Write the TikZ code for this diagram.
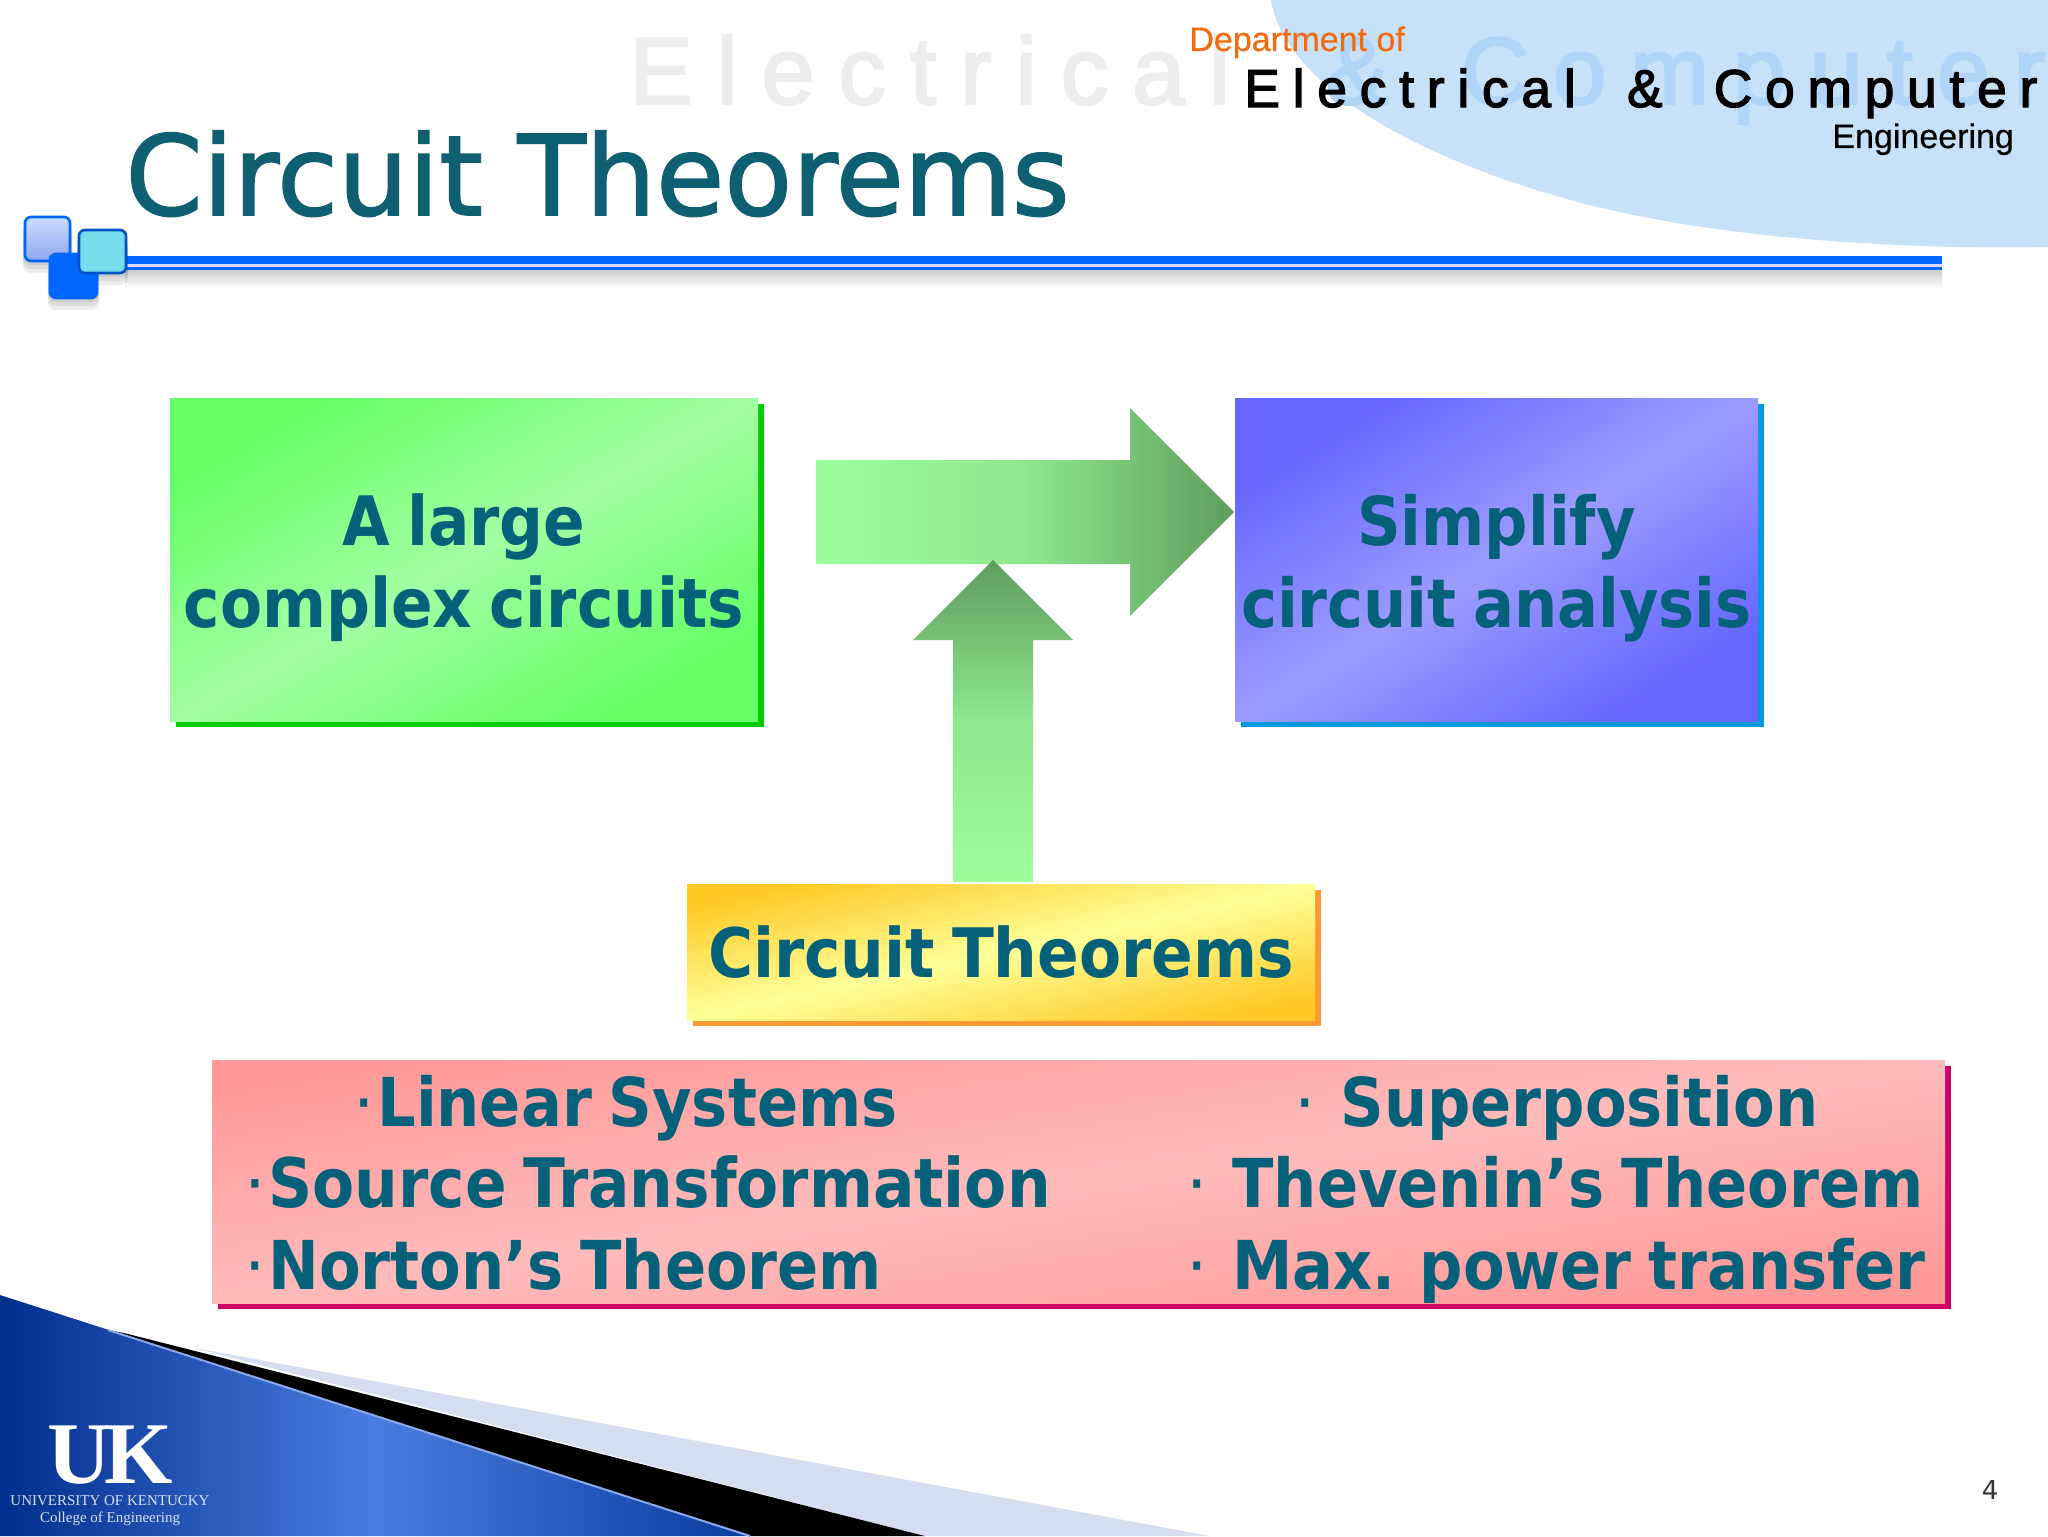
\documentclass[tikz,border=0pt]{standalone}
\usepackage{fontspec}
\setmainfont{Liberation Sans}
\newfontfamily\slidefont[WordSpace=0.8]{DejaVu Sans Condensed}
\newfontfamily\titlefont[FakeBold=1.5]{DejaVu Sans}
\newfontfamily\plainfont{DejaVu Sans}
\newfontfamily\logofont{Liberation Serif}
\newfontfamily\ecefont[FakeBold=2.5]{Liberation Sans}
\newfontfamily\deptfont[FakeBold=0.4]{Liberation Sans}
\usetikzlibrary{shadows}
\definecolor{teal1}{HTML}{05607A}
\definecolor{titleteal}{HTML}{0F5F72}
\definecolor{lineblue}{HTML}{0066FF}
\definecolor{gsat}{HTML}{66FF66}\definecolor{glit}{HTML}{A3FFA3}\definecolor{gsh}{HTML}{00CC00}
\definecolor{bsat}{HTML}{6666FF}\definecolor{blit}{HTML}{9C9CFF}\definecolor{bsh}{HTML}{0099DD}
\definecolor{ysat}{HTML}{FFC926}\definecolor{ylit}{HTML}{FFFF99}\definecolor{ysh}{HTML}{FF9933}
\definecolor{psat}{HTML}{FF9999}\definecolor{plit}{HTML}{FFBBBB}\definecolor{psh}{HTML}{CC0066}
\definecolor{arrlit}{HTML}{9CFF9C}\definecolor{arrmid}{HTML}{8EE88E}\definecolor{arrdark}{HTML}{5F9C5F}
\definecolor{sky}{HTML}{C7E1F8}\definecolor{ghost}{HTML}{EDEDED}\definecolor{ghostb}{HTML}{B0D5F9}
\definecolor{deptorange}{HTML}{F46A10}\definecolor{cyantile}{HTML}{77DDEB}
\definecolor{swlight}{HTML}{D5DEF0}\definecolor{swdark}{HTML}{002E8C}\definecolor{swmid}{HTML}{4A7CE0}\definecolor{swend}{HTML}{0A3CA0}\definecolor{swedge}{HTML}{8CAAEB}
\definecolor{tiletop}{HTML}{CCDDFF}\definecolor{tilebot}{HTML}{8FA8F0}\definecolor{logotext}{HTML}{D8E0F0}
\newcommand{\bulletgap}[1]{\makebox[#1][l]{\plainfont\mdseries ·}}
\tikzset{
  x=0.5pt,y=-0.5pt,
  panel/.style n args={3}{shade,top color=#1,bottom color=#1,middle color=#2,shading angle=#3,
    inner sep=0pt,outer sep=0pt,align=center,text=teal1},
  boxshadow/.style={general shadow={fill=#1,shadow xshift=3pt,shadow yshift=-3pt}},
  big/.style={font=\slidefont\bfseries\fontsize{33.7}{41.2}\selectfont},
  bigger/.style={font=\slidefont\bfseries\fontsize{34.1}{41.2}\selectfont},
  listline/.style={anchor=base west,inner sep=0pt,text=teal1,big},
  small/.style={anchor=base west,inner sep=0pt,font=\deptfont\fontsize{17}{20}\selectfont},
  tile/.style={rounded corners=3pt,line width=1.3pt},
}
\begin{document}
\begin{tikzpicture}
\useasboundingbox (0,0) rectangle (2048,1536);
\fill[white] (0,0) rectangle (2048,1536);
% top right curved area
\fill[sky] (1271,0) .. controls (1282,70) and (1380,145) .. (1560,197) .. controls (1700,238) and (1900,250) .. (2048,247) -- (2048,0) -- cycle;
\node[anchor=base west,inner sep=0pt,font=\ecefont\fontsize{47.5}{50}\selectfont] (ghosttext) at (629,104)
  {\makebox[708pt][s]{\textcolor{ghost}{E l e c t r i c a l \ \ } \textcolor{ghostb}{\& \ \ C o m p u t e r}}};
\node[small,text=deptorange] (dept) at (1189,51) {Department of};
\node[anchor=base west,inner sep=0pt,font=\ecefont\fontsize{26.6}{30}\selectfont] (ece) at (1244,107)
  {\makebox[396.5pt][s]{E l e c t r i c a l \ \ \ \& \ \ \ C o m p u t e r}};
\node[small] (eng) at (1832,148) {Engineering};
% title line
\shade[top color=black!20,bottom color=white] (125,270) rectangle (1942,288);
\fill[lineblue] (125,256) rectangle (1942,264);
\fill[lineblue] (125,267) rectangle (1942,270);
\fill[blue!15] (125,264) rectangle (1942,267);
\node[anchor=base west,inner sep=0pt,text=titleteal,font=\titlefont\fontsize{55.5}{60}\selectfont] (title) at (125,215) {Circuit Theorems};
% tiles
\foreach \a/\b/\c/\d in {25/217/70/261,50/254/97/298,79/230/126/273}{
  \foreach \o in {4,8,12}{\fill[black,opacity=0.07,rounded corners=4pt] (\a-2,\b+\o) rectangle (\c+2,\d+\o);}
}
\shade[tile,draw=lineblue,top color=tiletop,bottom color=tilebot] (25,217) rectangle (70,261);
\fill[tile,draw=lineblue,fill=lineblue] (50,254) rectangle (97,298);
\fill[tile,draw=lineblue!80!black,fill=cyantile] (79,230) rectangle (126,273);
% arrows
\shade[left color=arrlit,right color=arrdark,middle color=arrmid] (816,460) -- (1130,460) -- (1130,408) -- (1234,512) -- (1130,616) -- (1130,564) -- (816,564) -- cycle;
\shade[bottom color=arrlit,top color=arrdark,middle color=arrmid] (953,882) -- (953,640) -- (913,640) -- (993,560) -- (1073,640) -- (1033,640) -- (1033,882) -- cycle;
% boxes
\node[panel={gsat}{glit}{29},boxshadow=gsh,bigger,minimum width=294pt,minimum height=161.5pt] (large) at (464,559.5) {\rule{0pt}{34pt}A large\\complex circuits};
\node[panel={bsat}{blit}{32},boxshadow=bsh,big,minimum width=261.5pt,minimum height=161.5pt] (simplify) at (1496.5,559.5) {\rule{0pt}{34pt}Simplify\\circuit analysis};
\node[panel={ysat}{ylit}{12},boxshadow=ysh,bigger,minimum width=314pt,minimum height=68pt] (theorems) at (1001,952) {Circuit Theorems};
\node[panel={psat}{plit}{8},boxshadow=psh,minimum width=866.5pt,minimum height=121.5pt] (listbox) at (1078.5,1181.5) {};
\node[listline] (l1) at (353,1126) {\bulletgap{12pt}Linear Systems};
\node[listline,bigger] (l2) at (244,1207) {\bulletgap{12pt}Source Transformation};
\node[listline] (l3) at (244,1289) {\bulletgap{12pt}Norton’s Theorem};
\node[listline] (r1) at (1294,1126) {\bulletgap{23pt}Superposition};
\node[listline] (r2) at (1186,1207) {\bulletgap{23pt}Thevenin’s Theorem};
\node[listline] (r3) at (1186,1289) {\bulletgap{23pt}Max. power transfer};
% footer swoosh
\fill[swlight] (190,1347) -- (1210,1536) -- (925,1536) -- cycle;
\fill[black] (108,1330) -- (124,1333) -- (925,1536) -- (750,1536) -- cycle;
\shade[left color=swdark,right color=swend,middle color=swmid] (0,1295) -- (750,1536) -- (0,1536) -- cycle;
\draw[line width=1pt,swedge] (108,1330) -- (750,1536);
\node[anchor=base,inner sep=0pt,text=white,font=\logofont\bfseries\fontsize{44}{44}\selectfont] (uk) at (110,1483) {U\kern-3pt K};
\node[anchor=base,inner sep=0pt,text=logotext,font=\logofont\fontsize{7.5}{8}\selectfont] (uni) at (110,1505) {UNIVERSITY OF KENTUCKY};
\node[anchor=base,inner sep=0pt,text=logotext,font=\logofont\fontsize{7.5}{8}\selectfont] (coe) at (110,1522) {College of Engineering};
\node[anchor=base,inner sep=0pt,font=\plainfont\fontsize{13}{15}\selectfont,text=black!80] (pg) at (1990,1499) {4};
\end{tikzpicture}
\end{document}
